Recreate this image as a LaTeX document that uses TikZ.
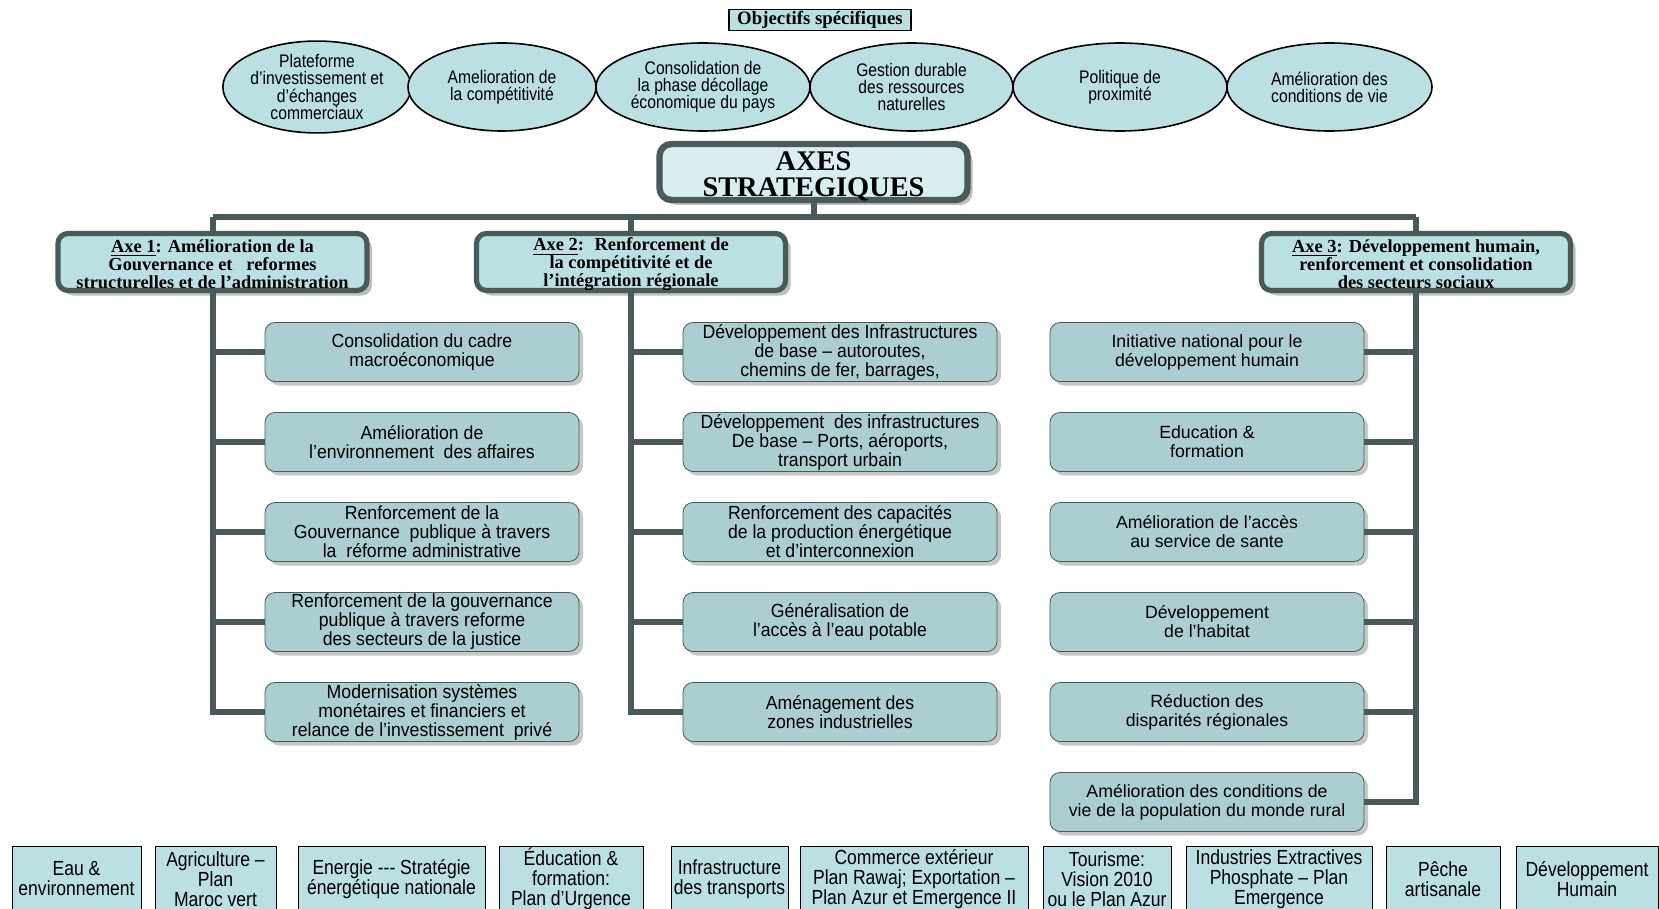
\documentclass[tikz,border=0pt]{standalone}
\usepackage{fontspec}
\setmainfont{Liberation Serif}
\setsansfont{Liberation Sans}
\newfontfamily\narrowsf[FakeStretch=0.86]{Liberation Sans}
\newfontfamily\semisf[FakeStretch=0.93]{Liberation Sans}
\usetikzlibrary{shapes.geometric,shadows}

\definecolor{linegray}{RGB}{74,90,90}
\definecolor{axesfill}{RGB}{216,238,241}
\definecolor{axefill}{RGB}{186,224,228}
\definecolor{actfill}{RGB}{170,206,209}
\definecolor{objfill}{RGB}{186,224,228}

\tikzstyle{titre}=[rectangle, draw=black, thick, fill=objfill, minimum width=91pt, minimum height=10.5pt, inner sep=0.5pt, font=\bfseries\fontsize{9.4}{10}\selectfont]
\tikzstyle{objectif}=[ellipse, draw=black, thick, fill=objfill, minimum height=44pt, inner sep=0pt, align=center, font=\narrowsf\fontsize{9.1}{8.6}\selectfont]
\tikzstyle{axes}=[rectangle, rounded corners=6pt, draw=linegray, line width=3.2pt, fill=axesfill, minimum width=154pt, minimum height=28pt, inner xsep=0pt, inner ysep=-0.95pt, align=center, drop shadow={shadow xshift=2.5pt, shadow yshift=-2.5pt, fill=black!25, opacity=1}, font=\bfseries\fontsize{14.2}{12.8}\selectfont]
\tikzstyle{axe}=[rectangle, rounded corners=5pt, draw=linegray, line width=2.6pt, fill=axefill, minimum width=154.5pt, minimum height=28.5pt, inner xsep=0pt, inner ysep=-0.4pt, align=center, drop shadow={shadow xshift=2.5pt, shadow yshift=-2.5pt, fill=black!25, opacity=1}, font=\bfseries\fontsize{9.2}{9}\selectfont]
\tikzstyle{action}=[rectangle, rounded corners=5pt, draw=linegray, fill=actfill, minimum width=157pt, minimum height=29.5pt, inner sep=0.5pt, align=center, drop shadow={shadow xshift=2pt, shadow yshift=-2pt, fill=black!22, opacity=1}, font=\semisf\fontsize{9.5}{9.5}\selectfont]
\tikzstyle{actionsoc}=[action, font=\sffamily\fontsize{8.85}{9.5}\selectfont]
\tikzstyle{secteur}=[rectangle, draw=black, fill=objfill, minimum height=33pt, inner sep=0.5pt, align=center, font=\narrowsf\fontsize{10.2}{10}\selectfont]
\tikzstyle{link}=[draw=linegray, line width=3pt]

% room above the first line of a box
\newcommand{\haut}[1]{\rule{0pt}{#1}}

\begin{document}
\begin{tikzpicture}[x=0.5pt, y=-0.5pt]
	\useasboundingbox (0, 0) rectangle (1659, 909);
	\begin{scope}
		% objectifs
		\node (titre) at (820, 20) [titre] {Objectifs spécifiques};
		\node (obj1) at (317, 87) [objectif, minimum width=91pt] {Plateforme\\d’investissement et\\d’échanges\\commerciaux};
		\node (obj2) at (502, 87) [objectif, minimum width=94pt] {Amelioration de\\la compétitivité};
		\node (obj3) at (703, 87) [objectif, minimum width=107pt] {Consolidation de\\la phase décollage\\économique du pays};
		\node (obj4) at (911.5, 87) [objectif, minimum width=101.5pt] {Gestion durable\\des  ressources\\naturelles};
		\node (obj5) at (1120, 87) [objectif, minimum width=107pt] {Politique de\\proximité};
		\node (obj6) at (1329.5, 87) [objectif, minimum width=102.5pt] {Amélioration des\\conditions de vie};

		% axes
		\node (axes) at (813.5, 172) [axes] {\haut{14pt}AXES\\STRATEGIQUES};
		\node (axe1) at (212.5, 262) [axe] {\haut{9pt}\underline{Axe 1}: Amélioration de la\\Gouvernance et \ \ reformes\\structurelles et de l’administration};
		\node (axe2) at (631, 262) [axe] {\haut{9pt}\underline{Axe 2}: \ Renforcement de\\la compétitivité et de\\l’intégration régionale};
		\node (axe3) at (1416, 262) [axe] {\haut{9pt}\underline{Axe 3}: Développement humain,\\renforcement et consolidation\\des secteurs sociaux};

		% axe 1
		\node (a11) at (422, 352) [action] {Consolidation du cadre\\macroéconomique};
		\node (a12) at (422, 442) [action] {Amélioration de\\l’environnement \ des affaires};
		\node (a13) at (422, 532) [action] {Renforcement de la\\Gouvernance \ publique à travers\\la \ réforme administrative};
		\node (a14) at (422, 622) [action] {Renforcement de la gouvernance\\publique à travers reforme\\des secteurs de la justice};
		\node (a15) at (422, 712) [action] {Modernisation systèmes\\monétaires et financiers et\\relance de l’investissement \ privé};

		% axe 2
		\node (a21) at (840, 352) [action] {Développement des Infrastructures\\de base – autoroutes,\\chemins de fer, barrages,};
		\node (a22) at (840, 442) [action] {Développement \ des infrastructures\\De base – Ports, aéroports,\\transport urbain};
		\node (a23) at (840, 532) [action] {Renforcement des capacités\\de la production énergétique\\et d’interconnexion};
		\node (a24) at (840, 622) [action] {Généralisation de\\l’accès à l’eau potable};
		\node (a25) at (840, 712) [action] {Aménagement des\\zones industrielles};

		% axe 3
		\node (a31) at (1207, 352) [actionsoc] {Initiative national pour le\\développement humain};
		\node (a32) at (1207, 442) [actionsoc] {Education \&\\formation};
		\node (a33) at (1207, 532) [actionsoc] {Amélioration de l’accès\\au service de sante};
		\node (a34) at (1207, 622) [actionsoc] {Développement\\de l’habitat};
		\node (a35) at (1207, 712) [actionsoc] {Réduction des\\disparités régionales};
		\node (a36) at (1207, 802) [actionsoc] {Amélioration des conditions de\\vie de la population du monde rural};

		% secteurs
		\node (sect1) at (76.5, 879) [secteur, minimum width=64.5pt] {Eau \&\\environnement};
		\node (sect2) at (215.5, 879) [secteur, minimum width=60.5pt] {Agriculture –\\Plan\\Maroc vert};
		\node (sect3) at (391.5, 879) [secteur, minimum width=93.5pt] {Energie --- Stratégie\\énergétique nationale};
		\node (sect4) at (571, 879) [secteur, minimum width=72pt] {Éducation \&\\formation:\\Plan d’Urgence};
		\node (sect5) at (729.5, 879) [secteur, minimum width=58.5pt] {Infrastructure\\des transports};
		\node (sect6) at (914, 879) [secteur, minimum width=114pt] {Commerce extérieur\\Plan Rawaj; Exportation –\\Plan Azur et Emergence II};
		\node (sect7) at (1107, 879) [secteur, minimum width=64pt] {Tourisme:\\Vision 2010\\ou le Plan Azur};
		\node (sect8) at (1279, 879) [secteur, minimum width=93pt] {Industries Extractives\\Phosphate – Plan\\Emergence};
		\node (sect9) at (1443, 879) [secteur, minimum width=57pt] {Pêche\\artisanale};
		\node (sect10) at (1587, 879) [secteur, minimum width=71pt] {Développement\\Humain};

		\coordinate (bus) at (813.5, 217);
	\end{scope}
	\begin{scope}
		\path [link] (axes) -- (bus);
		\path [link] (axe1.north |- bus) -- (axe3.north |- bus);
		\path [link] (axe1.north |- bus) -- (axe1);
		\path [link] (axe2.north |- bus) -- (axe2);
		\path [link] (axe3.north |- bus) -- (axe3);

		\path [link] (axe1) |- (a15);
		\path [link] (axe1.south |- a11) -- (a11);
		\path [link] (axe1.south |- a12) -- (a12);
		\path [link] (axe1.south |- a13) -- (a13);
		\path [link] (axe1.south |- a14) -- (a14);

		\path [link] (axe2) |- (a25);
		\path [link] (axe2.south |- a21) -- (a21);
		\path [link] (axe2.south |- a22) -- (a22);
		\path [link] (axe2.south |- a23) -- (a23);
		\path [link] (axe2.south |- a24) -- (a24);

		\path [link] (axe3) |- (a36);
		\path [link] (axe3.south |- a31) -- (a31);
		\path [link] (axe3.south |- a32) -- (a32);
		\path [link] (axe3.south |- a33) -- (a33);
		\path [link] (axe3.south |- a34) -- (a34);
		\path [link] (axe3.south |- a35) -- (a35);
	\end{scope}
\end{tikzpicture}
\end{document}
